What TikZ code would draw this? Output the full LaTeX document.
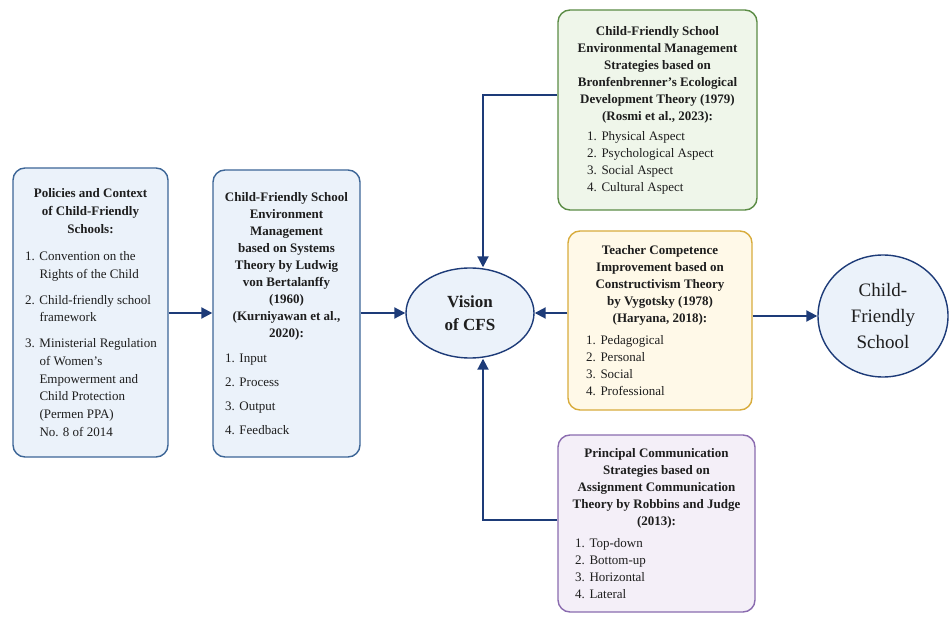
\documentclass[tikz,border=0pt]{standalone}
\usepackage{fontspec}
\setmainfont{Liberation Serif}
\usetikzlibrary{arrows.meta,shapes.geometric}

\definecolor{navy}{HTML}{1D3B78}
\definecolor{bluefill}{HTML}{EBF2FA}
\definecolor{blueline}{HTML}{3D6697}
\definecolor{greenfill}{HTML}{EFF6EA}
\definecolor{greenline}{HTML}{5B8C45}
\definecolor{yellowfill}{HTML}{FFF9E8}
\definecolor{yellowline}{HTML}{D8AC3C}
\definecolor{purplefill}{HTML}{F4EFF8}
\definecolor{purpleline}{HTML}{8A6BAF}
\definecolor{ink}{HTML}{1E1E1E}

% numbered list entry with hanging indent
\newlength\lstind
\newcommand{\itm}[2]{\par\hangindent=\dimexpr\lstind+14.5pt\relax\hangafter=1\noindent\hspace*{\lstind}\makebox[14.5pt][l]{#1}#2\par}

\tikzset{
  box/.style={draw, rounded corners=12pt, line width=1.4pt, inner xsep=0pt, inner ysep=4pt,
    align=flush left, text=ink, font=\rmfamily\fontsize{13}{17}\selectfont},
  bluebox/.style={box, draw=blueline, fill=bluefill},
  greenbox/.style={box, draw=greenline, fill=greenfill},
  yellowbox/.style={box, draw=yellowline, fill=yellowfill},
  purplebox/.style={box, draw=purpleline, fill=purplefill},
  lst/.style 2 args={execute at begin node={\setlength\lstind{#1}\setlength\parskip{#2}}},
  oval/.style={ellipse, draw=navy, fill=bluefill, line width=1.4pt, inner sep=0pt, align=center, text=ink},
  flow/.style={-{Triangle[length=11pt,width=11pt]}, draw=navy, line width=2pt}
}

\begin{document}
\begin{tikzpicture}[x=1pt,y=1pt]
	\useasboundingbox (0,0) rectangle (949,616);
	% policies and context
	\node[bluebox, lst={12pt}{8pt}, text width=155pt, minimum height=289pt,
	  font=\rmfamily\fontsize{13}{17.7}\selectfont] (policy) at (90.5,303.5)
	{{\centering\bfseries Policies and Context\\ of Child-Friendly\\ Schools:\par}\vspace{2pt}
	 \itm{1.}{Convention on the\newline Rights of the Child}
	 \itm{2.}{Child-friendly school\newline framework}
	 \itm{3.}{Ministerial Regulation\newline of Women’s\newline Empowerment and\newline Child Protection\newline (Permen PPA)\newline No. 8 of 2014}};
	% systems theory
	\node[bluebox, lst={12pt}{7pt}, text width=147pt, minimum height=287pt] (env) at (286.5,302.5)
	{{\centering\bfseries Child-Friendly School\\ Environment\\ Management\\ based on Systems\\ Theory by Ludwig\\ von Bertalanffy\\ (1960)\\ (Kurniyawan et al.,\\ 2020):\par}\vspace{1pt}
	 \itm{1.}{Input}
	 \itm{2.}{Process}
	 \itm{3.}{Output}
	 \itm{4.}{Feedback}};
	% ecological theory
	\node[greenbox, lst={29pt}{0pt}, text width=199pt, minimum height=200pt] (ecology) at (657.5,506)
	{{\centering\bfseries Child-Friendly School\\ Environmental Management\\ Strategies based on\\ Bronfenbrenner’s Ecological\\ Development Theory (1979)\\ (Rosmi et al., 2023):\par}\vspace{3pt}
	 \itm{1.}{Physical Aspect}
	 \itm{2.}{Psychological Aspect}
	 \itm{3.}{Social Aspect}
	 \itm{4.}{Cultural Aspect}};
	% teacher competence
	\node[yellowbox, lst={18pt}{0pt}, text width=184pt, minimum height=179pt] (teacher) at (660,295.5)
	{{\centering\bfseries Teacher Competence\\ Improvement based on\\ Constructivism Theory\\ by Vygotsky (1978)\\ (Haryana, 2018):\par}\vspace{5pt}
	 \itm{1.}{Pedagogical}
	 \itm{2.}{Personal}
	 \itm{3.}{Social}
	 \itm{4.}{Professional}};
	% principal communication
	\node[purplebox, lst={17pt}{0pt}, text width=197pt, minimum height=177pt] (comm) at (656.5,92.5)
	{{\centering\bfseries Principal Communication\\ Strategies based on\\ Assignment Communication\\ Theory by Robbins and Judge\\ (2013):\par}\vspace{5pt}
	 \itm{1.}{Top-down}
	 \itm{2.}{Bottom-up}
	 \itm{3.}{Horizontal}
	 \itm{4.}{Lateral}};
	% vision and goal
	\node[oval, minimum width=128pt, minimum height=90pt, font=\rmfamily\bfseries\fontsize{17}{23}\selectfont] (vision) at (470,303) {Vision\\ of CFS};
	\node[oval, minimum width=130pt, minimum height=122pt, font=\rmfamily\fontsize{19}{26}\selectfont] (cfs) at (883,300) {Child-\\ Friendly\\ School};
	% arrows
	\draw[flow] (policy.east |- vision.west) -- (env.west |- vision.west);
	\draw[flow] (env.east |- vision.west) -- (vision.west);
	\draw[flow] (teacher.west |- vision.east) -- (vision.east);
	\draw[flow] ([yshift=15pt]ecology.west) -| ([xshift=13pt]vision.north);
	\draw[flow] ([yshift=3.5pt]comm.west) -| ([xshift=13pt]vision.south);
	\draw[flow] (teacher.east |- cfs.west) -- (cfs.west);
\end{tikzpicture}
\end{document}
